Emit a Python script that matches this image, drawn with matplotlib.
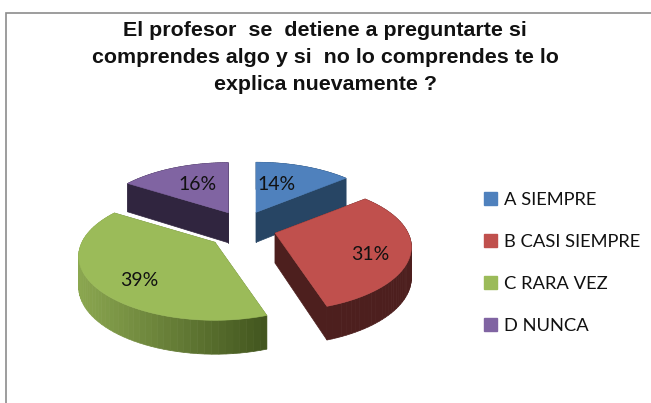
import numpy as np
import matplotlib
matplotlib.use('Agg')
import matplotlib.pyplot as plt
from matplotlib.patches import Polygon, Patch, Rectangle
from matplotlib.colors import to_rgb

title = "El profesor  se  detiene a preguntarte si\ncomprendes algo y si  no lo comprendes te lo\nexplica nuevamente ?"
categories = ['A SIEMPRE', 'B CASI SIEMPRE', 'C RARA VEZ', 'D NUNCA']
values = [14, 31, 39, 16]
top_colors = ['#4F81BD', '#C0504D', '#9BBB59', '#8064A2']
side_colors = ['#274564', '#4D1F1E', '#6C8440', '#30253F']

# pie geometry in image pixels
cx, cy = 243, 225
R, H = 133, 61
persp = 0.218
depth = 30
explode = 0.24
label_xy = [(277, 184), (370, 255), (139, 280), (198, 185)]
nudge = [(0, 0), (1, 4), (-2, 8), (0, 0)]


def project(u, v):
    s = 1 / (1 + persp * v)
    return R * u * s, -H * v * s, s


def slice_outline(a0, a1):
    th = np.radians(np.linspace(a0, a1, 60))
    return project(np.sin(th), np.cos(th))


fig = plt.figure(figsize=(6.51, 4.03), dpi=100)
ax = fig.add_axes([0, 0, 1, 1])
ax.set_xlim(0, 651)
ax.set_ylim(403, 0)
ax.axis('off')

# chart frame runs off the right and bottom of the image
ax.add_patch(Rectangle((5.5, 12.5), 700, 450, fc='white', ec='#8C8C8C', lw=1.2))

ax.text(325, 57.5, title, ha='center', va='center', fontsize=15.4, fontweight='bold',
        family='Liberation Sans', color='#111111', linespacing=1.55)

edges = np.cumsum([0] + values) * 3.6
mids = (edges[:-1] + edges[1:]) / 2

# back slices first, the front ones sit over their walls
for i in [0, 3, 2, 1]:
    m = np.radians(mids[i])
    ex, ey, _ = project(explode * np.sin(m), explode * np.cos(m))
    ax0, ay0 = cx + ex + nudge[i][0], cy + ey + nudge[i][1]
    px, py, s = slice_outline(edges[i], edges[i + 1])
    xs = ax0 + px
    ys = ay0 + py
    d = depth * np.sqrt(s)
    # cut faces
    for j in [0, -1]:
        ax.add_patch(Polygon([(ax0, ay0), (xs[j], ys[j]), (xs[j], ys[j] + d[j]), (ax0, ay0 + depth)],
                             fc=side_colors[i], ec=side_colors[i], lw=0.5))
    # outer wall, green one is shaded left to right
    light = np.array(to_rgb('#8BA750'))
    dark = np.array(to_rgb('#43561F'))
    for j in range(len(xs) - 1):
        if i == 2:
            t = np.clip((xs[j] - xs.min()) / (xs.max() - xs.min()), 0, 1)
            col = tuple(light + (dark - light) * t)
        else:
            col = side_colors[i]
        ax.add_patch(Polygon([(xs[j], ys[j]), (xs[j + 1], ys[j + 1]),
                              (xs[j + 1], ys[j + 1] + d[j + 1]), (xs[j], ys[j] + d[j])],
                             fc=col, ec=col, lw=0.5))
    top = np.column_stack([np.r_[ax0, xs], np.r_[ay0, ys]])
    ax.add_patch(Polygon(top, fc=top_colors[i], ec=top_colors[i], lw=0.4))

for i in range(4):
    ax.text(label_xy[i][0], label_xy[i][1], str(values[i]) + '%', ha='center', va='center',
            fontsize=14, family='Lato', color='#111111')

handles = [Patch(fc=c, ec=c) for c in top_colors]
fig.legend(handles, categories, loc='upper left', bbox_to_anchor=(484 / 651, 1 - 192 / 403),
           frameon=False, prop={'family': 'Lato', 'size': 13.2},
           handlelength=0.72, handleheight=0.72, handletextpad=0.38, labelspacing=1.42,
           borderpad=0, borderaxespad=0, labelcolor='#111111')

fig.savefig('out.png', dpi=100)
